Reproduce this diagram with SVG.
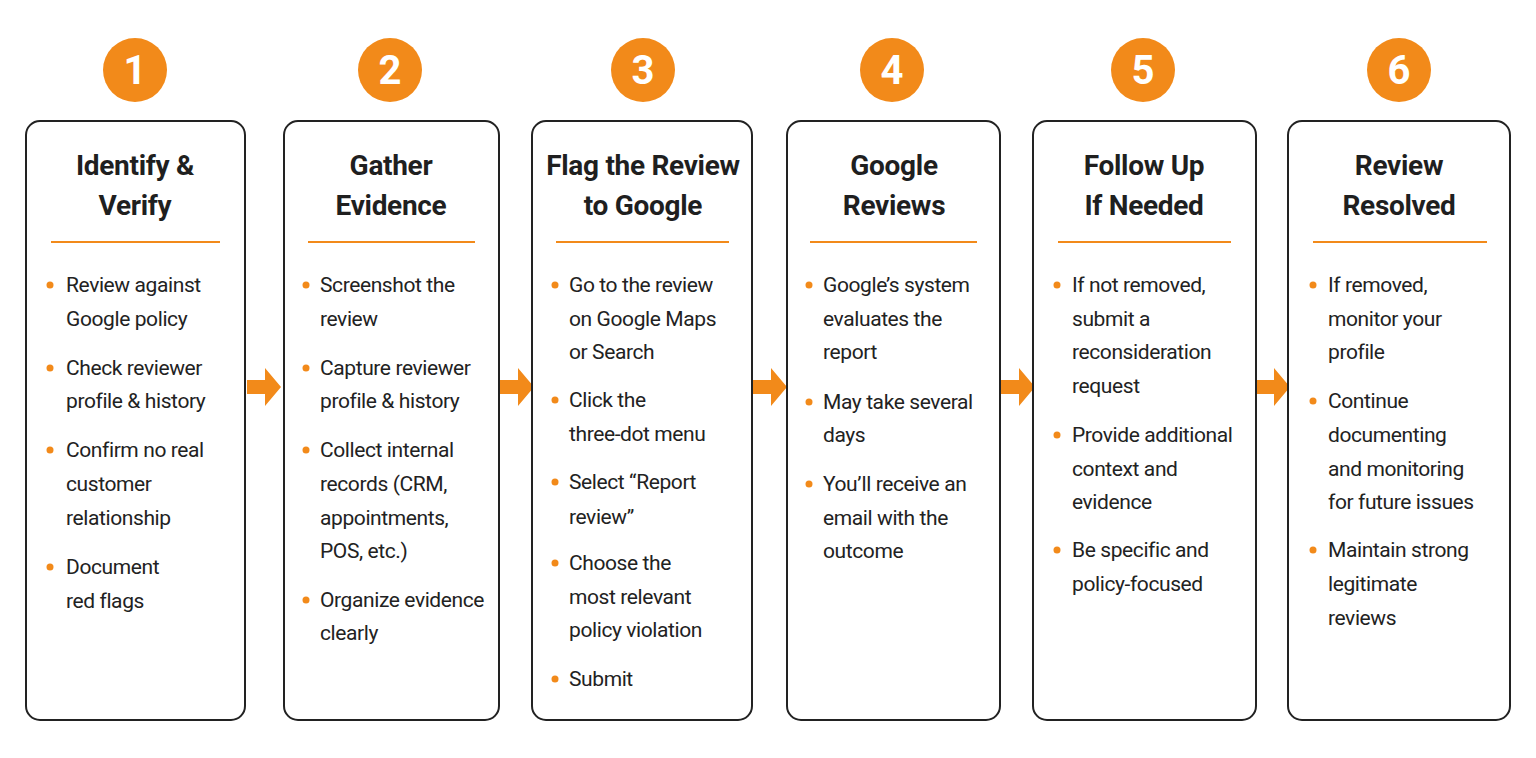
<svg xmlns="http://www.w3.org/2000/svg" width="1536" height="758" viewBox="0 0 1536 758">
<style>
.box{fill:#fff;stroke:#222;stroke-width:2}
.num{fill:#F28A1A}
.nt{font-family:Roboto,"Liberation Sans",sans-serif;font-weight:700;font-size:40px;fill:#fff;text-anchor:middle;dominant-baseline:central}
.ti{font-family:Roboto,"Liberation Sans",sans-serif;font-weight:700;font-size:28px;fill:#1f1f1f;text-anchor:middle;dominant-baseline:central;letter-spacing:-0.3px}
.div{stroke:#F28A1A;stroke-width:2}
.tx{font-family:Roboto,"Liberation Sans",sans-serif;font-size:21px;fill:#222;dominant-baseline:central;letter-spacing:-0.4px}
.dot{fill:#F28A1A}
.ar{fill:#F28A1A}
</style>
<rect width="1536" height="758" fill="#fff"/>
<g id="connectors">
<path class="ar" d="M247,380h18v-12l16,19l-16,19v-12h-18z"/>
<path class="ar" d="M500,380h18v-12l16,19l-16,19v-12h-18z"/>
<path class="ar" d="M753,380h18v-12l16,19l-16,19v-12h-18z"/>
<path class="ar" d="M1001,380h18v-12l16,19l-16,19v-12h-18z"/>
<path class="ar" d="M1256,380h18v-12l16,19l-16,19v-12h-18z"/>
</g>
<g id="step1">
<circle class="num" cx="135" cy="70" r="32"/><text class="nt" x="135" y="70">1</text>
<rect class="box" x="26" y="121" width="219" height="599" rx="14"/>
<text class="ti" x="135" y="165">Identify &amp;</text><text class="ti" x="135" y="205">Verify</text>
<line class="div" x1="51" y1="242" x2="220" y2="242"/>
<circle class="dot" cx="50" cy="285" r="3.5"/><circle class="dot" cx="50" cy="368" r="3.5"/><circle class="dot" cx="50" cy="450" r="3.5"/><circle class="dot" cx="50" cy="567" r="3.5"/>
<text class="tx" x="66" y="285">Review against</text><text class="tx" x="66" y="319">Google policy</text>
<text class="tx" x="66" y="368">Check reviewer</text><text class="tx" x="66" y="401">profile &amp; history</text>
<text class="tx" x="66" y="450">Confirm no real</text><text class="tx" x="66" y="484">customer</text><text class="tx" x="66" y="518">relationship</text>
<text class="tx" x="66" y="567">Document</text><text class="tx" x="66" y="601">red flags</text>
</g>
<g id="step2">
<circle class="num" cx="390" cy="70" r="32"/><text class="nt" x="390" y="70">2</text>
<rect class="box" x="284" y="121" width="215" height="599" rx="14"/>
<text class="ti" x="391" y="165">Gather</text><text class="ti" x="391" y="205">Evidence</text>
<line class="div" x1="308" y1="242" x2="475" y2="242"/>
<circle class="dot" cx="306" cy="285" r="3.5"/><circle class="dot" cx="306" cy="368" r="3.5"/><circle class="dot" cx="306" cy="450" r="3.5"/><circle class="dot" cx="306" cy="600" r="3.5"/>
<text class="tx" x="320" y="285">Screenshot the</text><text class="tx" x="320" y="319">review</text>
<text class="tx" x="320" y="368">Capture reviewer</text><text class="tx" x="320" y="401">profile &amp; history</text>
<text class="tx" x="320" y="450">Collect internal</text><text class="tx" x="320" y="484">records (CRM,</text><text class="tx" x="320" y="518">appointments,</text><text class="tx" x="320" y="551">POS, etc.)</text>
<text class="tx" x="320" y="600">Organize evidence</text><text class="tx" x="320" y="633">clearly</text>
</g>
<g id="step3">
<circle class="num" cx="643" cy="70" r="32"/><text class="nt" x="643" y="70">3</text>
<rect class="box" x="532" y="121" width="220" height="599" rx="14"/>
<text class="ti" x="643" y="165">Flag the Review</text><text class="ti" x="643" y="205">to Google</text>
<line class="div" x1="556" y1="242" x2="729" y2="242"/>
<circle class="dot" cx="555" cy="285" r="3.5"/><circle class="dot" cx="555" cy="400" r="3.5"/><circle class="dot" cx="555" cy="482" r="3.5"/><circle class="dot" cx="555" cy="563" r="3.5"/><circle class="dot" cx="555" cy="679" r="3.5"/>
<text class="tx" x="569" y="285">Go to the review</text><text class="tx" x="569" y="319">on Google Maps</text><text class="tx" x="569" y="352">or Search</text>
<text class="tx" x="569" y="400">Click the</text><text class="tx" x="569" y="434">three-dot menu</text>
<text class="tx" x="569" y="482">Select “Report</text><text class="tx" x="569" y="517">review”</text>
<text class="tx" x="569" y="563">Choose the</text><text class="tx" x="569" y="597">most relevant</text><text class="tx" x="569" y="630">policy violation</text>
<text class="tx" x="569" y="679">Submit</text>
</g>
<g id="step4">
<circle class="num" cx="892" cy="70" r="32"/><text class="nt" x="892" y="70">4</text>
<rect class="box" x="787" y="121" width="213" height="599" rx="14"/>
<text class="ti" x="894" y="165">Google</text><text class="ti" x="894" y="205">Reviews</text>
<line class="div" x1="810" y1="242" x2="977" y2="242"/>
<circle class="dot" cx="809" cy="285" r="3.5"/><circle class="dot" cx="809" cy="402" r="3.5"/><circle class="dot" cx="809" cy="484" r="3.5"/>
<text class="tx" x="823" y="285">Google’s system</text><text class="tx" x="823" y="319">evaluates the</text><text class="tx" x="823" y="352">report</text>
<text class="tx" x="823" y="402">May take several</text><text class="tx" x="823" y="435">days</text>
<text class="tx" x="823" y="484">You’ll receive an</text><text class="tx" x="823" y="518">email with the</text><text class="tx" x="823" y="551">outcome</text>
</g>
<g id="step5">
<circle class="num" cx="1143" cy="70" r="32"/><text class="nt" x="1143" y="70">5</text>
<rect class="box" x="1033" y="121" width="223" height="599" rx="14"/>
<text class="ti" x="1144" y="165">Follow Up</text><text class="ti" x="1144" y="205">If Needed</text>
<line class="div" x1="1058" y1="242" x2="1231" y2="242"/>
<circle class="dot" cx="1057" cy="285" r="3.5"/><circle class="dot" cx="1057" cy="435" r="3.5"/><circle class="dot" cx="1057" cy="550" r="3.5"/>
<text class="tx" x="1072" y="285">If not removed,</text><text class="tx" x="1072" y="319">submit a</text><text class="tx" x="1072" y="352">reconsideration</text><text class="tx" x="1072" y="386">request</text>
<text class="tx" x="1072" y="435">Provide additional</text><text class="tx" x="1072" y="469">context and</text><text class="tx" x="1072" y="502">evidence</text>
<text class="tx" x="1072" y="550">Be specific and</text><text class="tx" x="1072" y="584">policy-focused</text>
</g>
<g id="step6">
<circle class="num" cx="1399" cy="70" r="32"/><text class="nt" x="1399" y="70">6</text>
<rect class="box" x="1288" y="121" width="222" height="599" rx="14"/>
<text class="ti" x="1399" y="165">Review</text><text class="ti" x="1399" y="205">Resolved</text>
<line class="div" x1="1313" y1="242" x2="1487" y2="242"/>
<circle class="dot" cx="1313" cy="285" r="3.5"/><circle class="dot" cx="1313" cy="401" r="3.5"/><circle class="dot" cx="1313" cy="550" r="3.5"/>
<text class="tx" x="1328" y="285">If removed,</text><text class="tx" x="1328" y="319">monitor your</text><text class="tx" x="1328" y="352">profile</text>
<text class="tx" x="1328" y="401">Continue</text><text class="tx" x="1328" y="435">documenting</text><text class="tx" x="1328" y="469">and monitoring</text><text class="tx" x="1328" y="502">for future issues</text>
<text class="tx" x="1328" y="550">Maintain strong</text><text class="tx" x="1328" y="584">legitimate</text><text class="tx" x="1328" y="618">reviews</text>
</g>
</svg>
